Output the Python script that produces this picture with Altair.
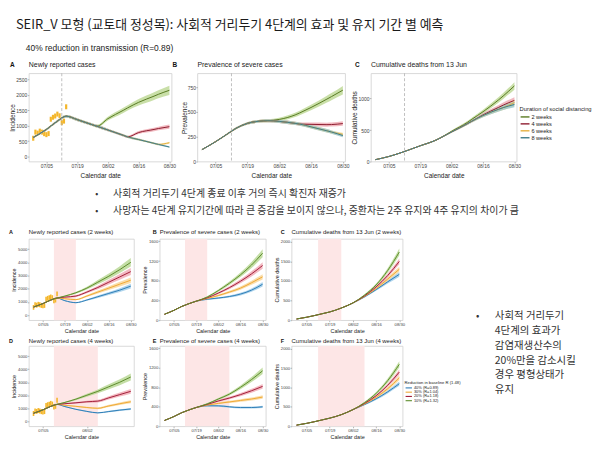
import altair as alt
import pandas as pd

FONT = "Liberation Sans"
KFONT = "Noto Sans CJK KR"

# ---------------- text ----------------
TITLE = "SEIR_V 모형 (교토대 정성목): 사회적 거리두기 4단계의 효과 및 유지 기간 별 예측"
SUBTITLE = "40% reduction in transmission (R=0.89)"
BULLETS = ["사회적 거리두기 4단계 종료 이후 거의 즉시 확진자 재증가",
           "사망자는 4단계 유지기간에 따라 큰 증감을 보이지 않으나, 중환자는 2주 유지와 4주 유지의 차이가 큼"]
SIDE_TEXT = ["사회적 거리두기", "4단계의 효과가", "감염재생산수의", "20%만을 감소시킬", "경우 평형상태가", "유지"]

TOP_TITLES = ["Newly reported cases", "Prevalence of severe cases", "Cumulative deaths from 13 Jun"]
W2_TITLES = ["Newly reported cases (2 weeks)", "Prevalence of severe cases (2 weeks)",
             "Cumulative deaths from 13 Jun (2 weeks)"]
W4_TITLES = ["Newly reported cases (4 weeks)", "Prevalence of severe cases (4 weeks)",
             "Cumulative deaths from 13 Jun (4 weeks)"]
LETTERS_TOP = ["A", "B", "C"]
LETTERS_W2 = ["A", "B", "C"]
LETTERS_W4 = ["D", "E", "F"]
Y_TITLES = ["Incidence", "Prevalence", "Cumulative deaths"]
X_TITLE = "Calendar date"
X_TICKS = ["07/05", "07/19", "08/02", "08/16", "08/30"]
X_TICKS_D = ["07/05", "08/02"]
TOP_Y_TICKS = [[0, 500, 1000, 1500, 2000, 2500], [0, 250, 500, 750], [0, 500, 1000]]
LOW_Y_TICKS = [[0, 1000, 2000, 3000, 4000, 5000], [0, 400, 800, 1200, 1600], [0, 500, 1000, 1500, 2000]]
TOP_Y_MAX = [2540, 890, 1400]
LOW_Y_MAX = [5400, 1650, 2075]
TOP_X_RANGE = ["06/27", "08/31"]
LOW_X_RANGE = ["06/26", "09/01"]
RULE_DATE = "07/12"
SHADE_2W = ["07/12", "07/26"]
SHADE_4W = ["07/12", "08/09"]
LEGEND_TOP_TITLE = "Duration of social distancing"
LEGEND_LOW_TITLE = "Reduction in baseline R (1.48)"

# ---------------- reported daily cases (bars) ----------------
CASE_DATES = ["06/29", "06/30", "07/01", "07/02", "07/03", "07/04", "07/05", "07/06",
              "07/07", "07/08", "07/09", "07/10", "07/11", "07/12", "07/13", "07/14"]
CASE_VALUES = [595, 794, 762, 826, 794, 743, 711, 746, 1212, 1275, 1316, 1378, 1324, 1100, 1150, 1615]

# ---------------- top row: duration of social distancing ----------------
DURATIONS = ["2 weeks", "4 weeks", "6 weeks", "8 weeks"]
DUR_STROKE = ["#587a22", "#8e1d30", "#e5b040", "#3f7c8a"]
DUR_FILL = ["#bcd792", "#eea7b0", "#f6dc98", "#98c6cb"]
TOP_DATES = ["06/29", "07/05", "07/10", "07/14", "07/19", "07/26", "07/28", "08/02",
             "08/09", "08/11", "08/16", "08/23", "08/25", "08/30"]
TOP_CASES = [
    [620, 880, 1150, 1310, 1200, 1030, 985, 1230, 1500, 1580, 1760, 1960, 2020, 2150],
    [620, 880, 1150, 1310, 1200, 1030, 985, 862, 690, 640, 780, 880, 910, 970],
    [620, 880, 1150, 1310, 1200, 1030, 985, 862, 690, 640, 552, 430, 395, 450],
    [620, 880, 1150, 1310, 1200, 1030, 985, 862, 690, 640, 552, 430, 395, 310],
]
TOP_CASES_SPREAD = [0.04, 0.035, 0.03, 0.03, 0.035, 0.04, 0.045, 0.05, 0.055, 0.055, 0.06, 0.065, 0.065, 0.07]
TOP_SEVERE = [
    [120, 200, 275, 335, 385, 410, 412, 425, 470, 490, 545, 630, 655, 720],
    [120, 200, 275, 335, 385, 410, 412, 405, 385, 378, 375, 372, 373, 383],
    [120, 200, 275, 335, 385, 410, 412, 405, 385, 378, 350, 310, 298, 275],
    [120, 200, 275, 335, 385, 410, 412, 405, 385, 378, 350, 310, 298, 262],
]
TOP_SEVERE_SPREAD = [0.03, 0.03, 0.03, 0.03, 0.03, 0.035, 0.035, 0.04, 0.045, 0.045, 0.05, 0.055, 0.055, 0.06]
TOP_DEATHS = [
    [30, 80, 135, 185, 250, 340, 375, 480, 620, 670, 790, 980, 1040, 1200],
    [30, 80, 135, 185, 250, 340, 375, 470, 600, 640, 740, 860, 895, 970],
    [30, 80, 135, 185, 250, 340, 375, 470, 600, 640, 730, 830, 855, 935],
    [30, 80, 135, 185, 250, 340, 375, 470, 600, 640, 730, 830, 855, 905],
]
TOP_DEATHS_SPREAD = [0.02, 0.02, 0.02, 0.02, 0.02, 0.025, 0.025, 0.03, 0.035, 0.035, 0.04, 0.045, 0.045, 0.05]

# ---------------- rows 2-3: reduction in baseline R ----------------
REDUCTIONS = ["40% (R=0.89)", "30% (R=1.04)", "20% (R=1.18)", "10% (R=1.32)"]
RED_STROKE = ["#2f7db6", "#efa935", "#a31f3b", "#5d8c2c"]
RED_FILL = ["#98c9e8", "#f9d594", "#f0a7b2", "#b5d690"]
LOW_DATES = ["06/29", "07/05", "07/10", "07/14", "07/19", "07/26", "08/02", "08/09", "08/16", "08/23", "08/30"]
W2_CASES = [
    [620, 880, 1150, 1300, 1100, 950, 1150, 1400, 1650, 1900, 2200],
    [620, 880, 1150, 1300, 1250, 1180, 1450, 1750, 2050, 2350, 2650],
    [620, 880, 1150, 1300, 1370, 1450, 1750, 2100, 2500, 2900, 3300],
    [620, 880, 1150, 1300, 1450, 1700, 2050, 2500, 2950, 3450, 4000],
]
W2_SEVERE = [
    [120, 200, 280, 330, 385, 425, 450, 480, 530, 610, 730],
    [120, 200, 280, 330, 385, 440, 500, 570, 650, 760, 880],
    [120, 200, 280, 330, 385, 455, 550, 660, 790, 940, 1110],
    [120, 200, 280, 330, 385, 470, 600, 750, 920, 1120, 1360],
]
W2_DEATHS = [
    [30, 75, 120, 160, 210, 310, 440, 595, 780, 980, 1170],
    [30, 75, 120, 160, 210, 310, 440, 605, 810, 1050, 1300],
    [30, 75, 120, 160, 210, 310, 440, 620, 850, 1140, 1500],
    [30, 75, 120, 160, 210, 310, 440, 640, 900, 1270, 1740],
]
W4_CASES = [
    [620, 880, 1150, 1300, 1130, 920, 760, 650, 750, 860, 950],
    [620, 880, 1150, 1300, 1230, 1150, 1060, 1000, 1180, 1350, 1500],
    [620, 880, 1150, 1300, 1350, 1420, 1500, 1550, 1800, 2050, 2300],
    [620, 880, 1150, 1300, 1450, 1700, 2000, 2300, 2650, 3000, 3400],
]
W4_SEVERE = [
    [120, 200, 280, 330, 385, 420, 420, 400, 385, 385, 400],
    [120, 200, 280, 330, 385, 435, 470, 500, 530, 560, 600],
    [120, 200, 280, 330, 385, 450, 520, 580, 650, 730, 820],
    [120, 200, 280, 330, 385, 460, 560, 660, 800, 960, 1140],
]
W4_DEATHS = [
    [30, 75, 120, 160, 210, 300, 430, 560, 710, 890, 1100],
    [30, 75, 120, 160, 210, 300, 430, 575, 750, 970, 1250],
    [30, 75, 120, 160, 210, 300, 430, 590, 790, 1060, 1400],
    [30, 75, 120, 160, 210, 300, 430, 610, 850, 1180, 1600],
]
LOW_CASES_SPREAD = [0.03, 0.03, 0.03, 0.03, 0.035, 0.045, 0.055, 0.065, 0.07, 0.075, 0.08]
LOW_SEVERE_SPREAD = [0.03, 0.03, 0.03, 0.03, 0.03, 0.035, 0.04, 0.045, 0.05, 0.055, 0.06]
LOW_DEATHS_SPREAD = [0.02, 0.02, 0.02, 0.02, 0.02, 0.025, 0.03, 0.035, 0.04, 0.045, 0.05]

YELLOW = "#f4b62a"
PINK = "#fde6e6"
ONE = pd.DataFrame({"k": [0]})


def iso(md, hours=0):
    m, d = md.split("/")
    ts = pd.Timestamp(f"2021-{m}-{d}") + pd.Timedelta(hours=hours)
    return ts.strftime("%Y-%m-%dT%H:%M:%S")


def dt(md):
    m, d = md.split("/")
    return alt.DateTime(year=2021, month=int(m), date=int(d))


BARS = pd.DataFrame({
    "d0": [iso(d, -12) for d in CASE_DATES],
    "d1": [iso(d, 12) for d in CASE_DATES],
    "cases": CASE_VALUES,
})


def text_layer(t, x, y, size, font, color, weight="normal", baseline="middle", opacity=1):
    return (alt.Chart(ONE).mark_text(text=t, font=font, fontSize=size, color=color, fontWeight=weight,
                                      align="left", baseline=baseline, opacity=opacity)
            .encode(x=alt.value(x), y=alt.value(y)))


def anchor(x, y, baseline):
    # invisible 1px text that pins the edge of a row's bounding box
    return text_layer(".", x, y, 1, FONT, "#ffffff", baseline=baseline, opacity=0)


def legend_layers(title, names, cscale, x, y, tsize, lsize, step, swidth):
    """Legend drawn inside the panel; symbol colours come from the panel's colour scale."""
    out = [text_layer(title, x, y, tsize, FONT, "#222")]
    for k, name in enumerate(names):
        yk = y + (k + 1) * step + 1
        out.append(alt.Chart(pd.DataFrame({"scen": [name]})).mark_rule(strokeWidth=swidth).encode(
            x=alt.value(x + 1), x2=alt.value(x + 1 + 1.6 * lsize), y=alt.value(yk),
            color=alt.Color("scen:N", scale=cscale, legend=None)))
        out.append(text_layer(name, x + 3 + 1.6 * lsize, yk, lsize, FONT, "#222"))
    return out


def panel(dates, values, spread, names, strokes, fills, w, h, ymax, yticks, ytitle,
          title, letter, lx, ty, xticks, xrange, fs, bars=False, rule=None, shade=None, legend=None,
          extra=()):
    rows = []
    for k, name in enumerate(names):
        for i, d in enumerate(dates):
            v = values[k][i]
            rows.append({"date": iso(d), "scen": name, "value": v,
                         "lo": v * (1 - spread[i]), "hi": v * (1 + spread[i])})
    df = pd.DataFrame(rows)
    xscale = alt.Scale(domain=[dt(xrange[0]), dt(xrange[1])])
    xaxis = alt.Axis(values=[dt(v) for v in xticks], format="%m/%d", labelFontSize=fs["lab"],
                     titleFontSize=fs["tit"], tickSize=1.5, labelPadding=1, titlePadding=fs["xtp"])
    yscale = alt.Scale(domain=[0, ymax], nice=False)
    yaxis = alt.Axis(values=yticks, format="d", labelFontSize=fs["lab"], titleFontSize=fs["tit"],
                     tickSize=1.5, labelPadding=0.5, titlePadding=fs["ytp"])
    cscale = alt.Scale(domain=names, range=strokes)

    def X(f):
        return alt.X(f"{f}:T", scale=xscale, axis=xaxis, title=X_TITLE)

    def Y(f):
        return alt.Y(f"{f}:Q", scale=yscale, axis=yaxis, title=ytitle)

    layers = []
    if shade:
        sdf = pd.DataFrame({"s0": [iso(shade[0])], "s1": [iso(shade[1])]})
        layers.append(alt.Chart(sdf).mark_rect(color=PINK).encode(x=X("s0"), x2="s1:T"))
    if bars:
        layers.append(alt.Chart(BARS).mark_bar(color=YELLOW)
                      .encode(x=X("d0"), x2="d1:T", y=Y("cases")))
    layers.append(alt.Chart(df).mark_area(opacity=0.8, interpolate="monotone").encode(
        x=X("date"), y=Y("lo"), y2="hi:Q",
        fill=alt.Fill("scen:N", scale=alt.Scale(domain=names, range=fills), legend=None)))
    layers.append(alt.Chart(df).mark_line(strokeWidth=1, interpolate="monotone").encode(
        x=X("date"), y=Y("value"), color=alt.Color("scen:N", scale=cscale, legend=None)))
    if rule:
        rdf = pd.DataFrame({"r": [iso(rule)]})
        layers.append(alt.Chart(rdf).mark_rule(color="#b0b0b0", strokeDash=[3, 2], strokeWidth=0.8)
                      .encode(x=X("r")))
    layers.append(text_layer(letter, lx, ty, fs["let"], FONT, "#111", weight="bold"))
    layers.append(text_layer(title, 0, ty, fs["ttl"], FONT, "#222"))
    if legend:
        layers.extend(legend_layers(legend["title"], names, cscale, legend["x"], legend["y"],
                                    legend["ts"], legend["ls"], legend["step"], legend["sw"]))
    layers.extend(extra)
    return alt.layer(*layers).properties(width=w, height=h)


FS_TOP = {"lab": 5, "tit": 6.5, "ttl": 7, "let": 6.5, "xtp": 4, "ytp": 0}
FS_LOW = {"lab": 4.2, "tit": 5.5, "ttl": 6, "let": 5.5, "xtp": 2, "ytp": 1}

# Page geometry: top plots at y=71 (h 89); 2-week plots at y=239 (h 82); 4-week plots at y=345 (h 81)
H1, H2, H3 = 89, 82, 81
K2, K3 = 12, 9           # overflow reserved above rows 2 and 3
ROW1_BOTTOM = 153        # bottom edge of the top row, relative to its plot area
RIGHT_EDGE = 181         # right edge of the lower block, relative to the 3rd column (page x=474)

legend_top = {"title": LEGEND_TOP_TITLE, "x": 150, "y": 36, "ts": 5.8, "ls": 5.6, "step": 7, "sw": 1.4}
legend_low = {"title": LEGEND_LOW_TITLE, "x": 114, "y": 37, "ts": 4.2, "ls": 4.0, "step": 4.3, "sw": 1.1}

# free text placed relative to the first top panel (plot area starts at page x=28, y=71)
top_extra = [
    anchor(-20, -63, "top"),
    anchor(-20, ROW1_BOTTOM, "bottom"),
    text_layer(TITLE, -13, -49, 13, KFONT, "#1a1a1a"),
    text_layer(SUBTITLE, -3, -25, 8.5, FONT, "#222"),
    text_layer("•", 67, 122, 9, KFONT, "#333"),
    text_layer(BULLETS[0], 85, 122, 10, KFONT, "#333"),
    text_layer("•", 67, 139, 9, KFONT, "#333"),
    text_layer(BULLETS[1], 85, 139, 10, KFONT, "#333"),
]
w2_anchor = [anchor(-20, -K2, "top"), anchor(-20, H2 + 15, "bottom")]
w4_anchor = [anchor(-20, -K3, "top")]

top_vals = [(TOP_CASES, TOP_CASES_SPREAD), (TOP_SEVERE, TOP_SEVERE_SPREAD), (TOP_DEATHS, TOP_DEATHS_SPREAD)]
top_w = [144, 149, 147]
top_lx = [-19, -25, -16]
top_panels = []
for j in range(3):
    top_panels.append(panel(TOP_DATES, top_vals[j][0], top_vals[j][1], DURATIONS, DUR_STROKE, DUR_FILL,
                            top_w[j], H1, TOP_Y_MAX[j], TOP_Y_TICKS[j], Y_TITLES[j], TOP_TITLES[j],
                            LETTERS_TOP[j], top_lx[j], -8, X_TICKS, TOP_X_RANGE, FS_TOP,
                            bars=(j == 0), rule=RULE_DATE, legend=legend_top if j == 2 else None,
                            extra=top_extra if j == 0 else ()))

w2_vals = [(W2_CASES, LOW_CASES_SPREAD), (W2_SEVERE, LOW_SEVERE_SPREAD), (W2_DEATHS, LOW_DEATHS_SPREAD)]
w4_vals = [(W4_CASES, LOW_CASES_SPREAD), (W4_SEVERE, LOW_SEVERE_SPREAD), (W4_DEATHS, LOW_DEATHS_SPREAD)]
low_w = [106, 107, 112]
low_lx = [-20, -7, -11]
w2_panels, w4_panels = [], []
for j in range(3):
    ex2 = (w2_anchor if j == 0 else []) + ([anchor(RIGHT_EDGE, 0, "top")] if j == 2 else [])
    ex4 = (w4_anchor if j == 0 else []) + ([anchor(RIGHT_EDGE, 0, "top")] if j == 2 else [])
    w2_panels.append(panel(LOW_DATES, w2_vals[j][0], w2_vals[j][1], REDUCTIONS, RED_STROKE, RED_FILL,
                           low_w[j], H2, LOW_Y_MAX[j], LOW_Y_TICKS[j], Y_TITLES[j], W2_TITLES[j],
                           LETTERS_W2[j], low_lx[j], -7, X_TICKS, LOW_X_RANGE, FS_LOW,
                           bars=(j == 0), shade=SHADE_2W, extra=ex2))
    w4_panels.append(panel(LOW_DATES, w4_vals[j][0], w4_vals[j][1], REDUCTIONS, RED_STROKE, RED_FILL,
                           low_w[j], H3, LOW_Y_MAX[j], LOW_Y_TICKS[j], Y_TITLES[j], W4_TITLES[j],
                           LETTERS_W4[j], low_lx[j], -5, X_TICKS_D if j == 0 else X_TICKS, LOW_X_RANGE,
                           FS_LOW, bars=(j == 0), shade=SHADE_4W, legend=legend_low if j == 2 else None,
                           extra=ex4))

# side text panel: its left edge sits at page x=474, its top at the top of the lower block
side_y = [78, 93, 108, 123, 137, 152]
side_layers = [text_layer("•", 4, side_y[0], 10, KFONT, "#333")]
for t, y in zip(SIDE_TEXT, side_y):
    side_layers.append(text_layer(t, 23, y, 10.5, KFONT, "#333"))
side = alt.layer(*side_layers).properties(width=115, height=165, view=alt.ViewBackground(strokeOpacity=0))


def cat(kind, charts, bounds):
    fn = alt.hconcat if kind == "h" else alt.vconcat
    return (fn(*charts, spacing=(26 if bounds == "flush" else 0), bounds=bounds)
            .resolve_scale(color="independent", fill="independent"))


row1 = cat("h", top_panels, "flush")
row2 = cat("h", w2_panels, "flush")
row3 = cat("h", w4_panels, "flush")
lower = cat("h", [cat("v", [row2, row3], "full"), side], "full")
chart = cat("v", [row1, lower], "full").properties(padding=0, background="white")
chart = (chart.configure_view(stroke="#cfcfcf", strokeWidth=0.8)
         .configure_axis(domain=False, grid=False, tickColor="#888", tickWidth=0.6, labelColor="#444",
                         titleColor="#222", labelFont=FONT, titleFont=FONT, titleFontWeight="normal"))

chart.save("out.html", embed_options={"renderer": "svg", "actions": False})
